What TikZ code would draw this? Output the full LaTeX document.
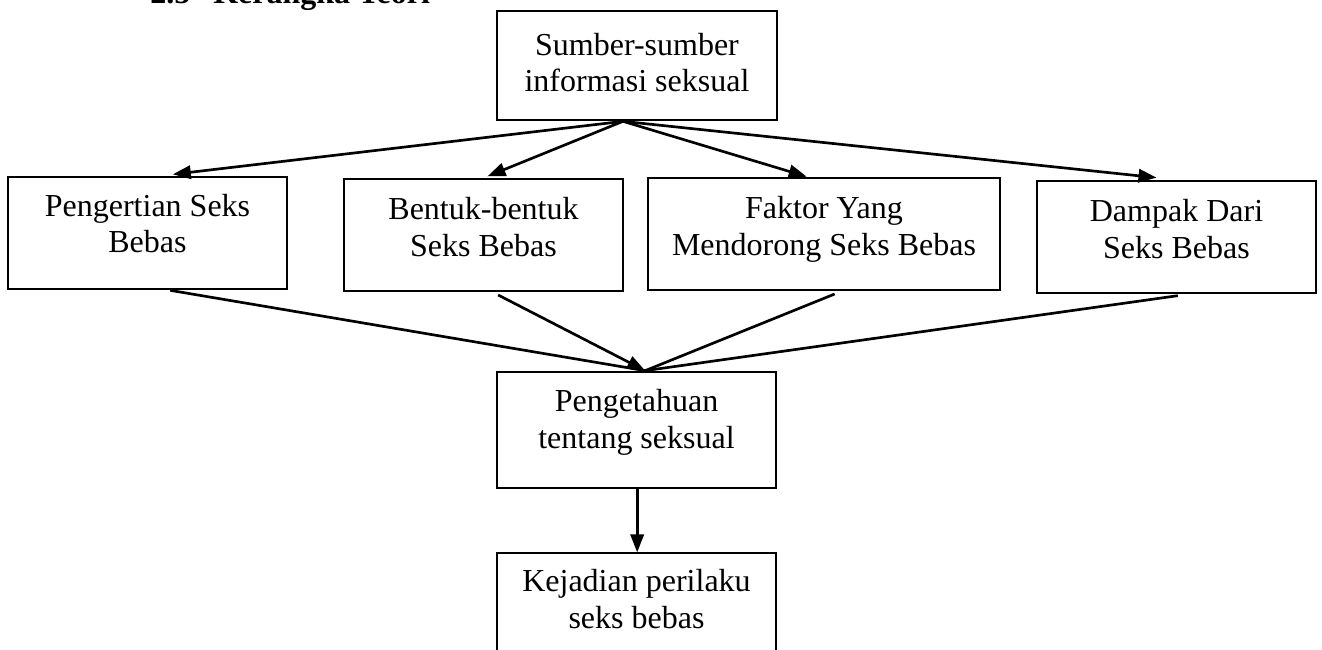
\documentclass[tikz,border=0pt]{standalone}
\usepackage{fontspec}
\setmainfont{Liberation Serif}
\usetikzlibrary{arrows.meta}
\begin{document}
\begin{tikzpicture}[x=0.75pt,y=-0.75pt,
  box/.style={draw=black,line width=1pt,inner sep=0pt},
  lbl/.style={align=center,inner sep=0pt,font=\fontsize{24}{27.5}\selectfont},
  conn/.style={line width=2pt},
  arr/.style={conn,-{Triangle[length=13.5pt,width=10pt]}},
  head/.style={anchor=base west,inner sep=0pt,font=\fontsize{24}{27.5}\selectfont\bfseries}]
\useasboundingbox (0,0) rectangle (1322,650);
% heading (cut off at top)
\node[head] (h1) at (150,3) {2.5};
\node[head] (h2) at (213,3) {Kerangka Teori};
% boxes
\node[box,minimum width=210pt,minimum height=81.75pt] (S) at (637,65.5) {};
\node[box,minimum width=209.25pt,minimum height=84pt] (P) at (147.5,233) {};
\node[box,minimum width=209.25pt,minimum height=84pt] (B) at (483.5,235) {};
\node[box,minimum width=264pt,minimum height=84pt] (F) at (824,234) {};
\node[box,minimum width=209.25pt,minimum height=84pt] (D) at (1176.5,237) {};
\node[box,minimum width=209.25pt,minimum height=87pt] (K) at (636.5,430) {};
\node[box,minimum width=209.25pt,minimum height=87pt] (J) at (636.5,611) {};
% labels
\node[lbl] (St) at ([yshift=2.1pt]S.center) {Sumber-sumber\\informasi seksual};
\node[lbl] (Pt) at ([yshift=7pt]P.center) {Pengertian Seks\\Bebas};
\node[lbl] (Bt) at ([yshift=6.2pt]B.center) {Bentuk-bentuk\\Seks Bebas};
\node[lbl] (Ft) at ([yshift=3.6pt]F.center) {Faktor Yang\\Mendorong Seks Bebas};
\node[lbl] (Dt) at ([yshift=6.2pt]D.center) {Dampak Dari\\Seks Bebas};
\node[lbl] (Kt) at ([yshift=5.9pt]K.center) {Pengetahuan\\tentang seksual};
\node[lbl] (Jt) at ([yshift=9.2pt]J.center) {Kejadian perilaku\\seks bebas};
% connectors from top
\coordinate (src) at ([xshift=-10.5pt,yshift=-0.5pt]S.south);
\draw[arr] (src) -- ([xshift=19pt,yshift=1.5pt]P.north);
\draw[arr] (src) -- ([xshift=3pt,yshift=1.5pt]B.north);
\draw[arr] (src) -- ([xshift=-13pt,yshift=0.5pt]F.north);
\draw[arr] (src) -- ([xshift=-15pt,yshift=2pt]D.north);
% connectors to Pengetahuan
\coordinate (tip) at ([xshift=6.5pt,yshift=0.5pt]K.north);
\draw[conn] ([xshift=17pt,yshift=-0.5pt]P.south) -- (tip);
\draw[arr] ([xshift=11pt,yshift=-2.5pt]B.south) -- (tip);
\draw[conn] ([xshift=8pt,yshift=-2.5pt]F.south) -- (tip);
\draw[conn] ([xshift=1pt,yshift=-1.5pt]D.south) -- (tip);
% down arrow
\draw[arr] ([xshift=0.5pt]K.south) -- ([xshift=0.5pt]J.north);
\end{tikzpicture}
\end{document}
